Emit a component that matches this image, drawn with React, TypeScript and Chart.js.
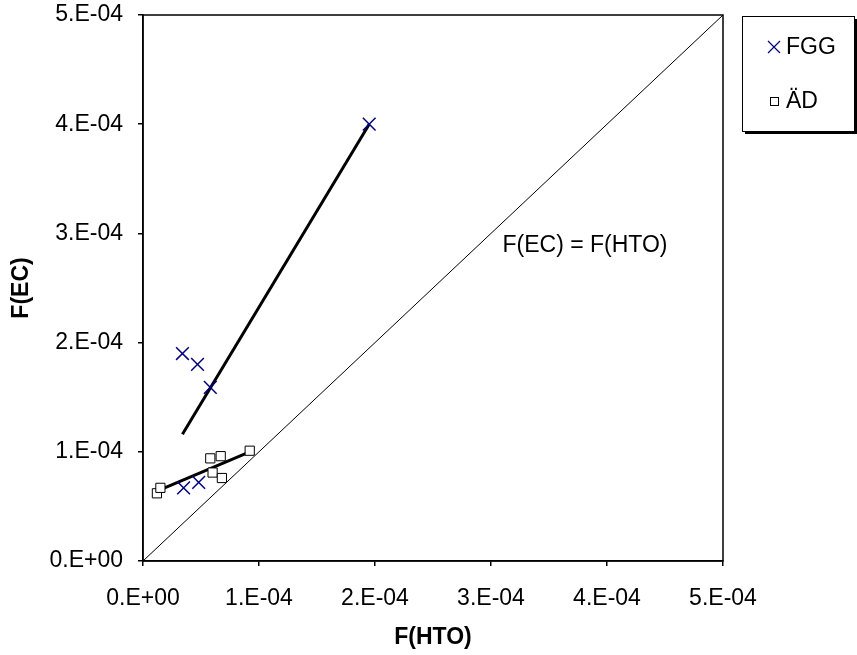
import React, { useEffect, useRef } from "react";
import { Chart, registerables } from "chart.js";

Chart.register(...registerables);

const fggX = [0.34e-4, 0.47e-4, 0.58e-4, 0.35e-4, 0.48e-4, 1.95e-4];
const fggY = [1.9e-4, 1.8e-4, 1.59e-4, 0.67e-4, 0.72e-4, 4.0e-4];
const adX = [0.12e-4, 0.15e-4, 0.58e-4, 0.67e-4, 0.6e-4, 0.68e-4, 0.92e-4];
const adY = [0.62e-4, 0.67e-4, 0.94e-4, 0.96e-4, 0.81e-4, 0.76e-4, 1.01e-4];
const fggTrendX = [0.34e-4, 1.95e-4];
const fggTrendY = [1.16e-4, 4.0e-4];
const adTrendX = [0.12e-4, 0.92e-4];
const adTrendY = [0.64e-4, 1.0e-4];
const diagX = [0, 5e-4];
const diagY = [0, 5e-4];
const seriesNames = ["FGG", "ÄD"];
const diagLabel = "F(EC) = F(HTO)";
const xTitle = "F(HTO)";
const yTitle = "F(EC)";

const FONT = "'Liberation Sans', Arial, sans-serif";
const FS = 23;

const zip = (xs: number[], ys: number[]) => xs.map((x, i) => ({ x, y: ys[i] }));

const fmt = (v: number) => {
  if (Math.abs(v) < 1e-12) return "0.E+00";
  const e = Math.floor(Math.log10(Math.abs(v)) + 1e-9);
  const m = Math.round(v / Math.pow(10, e));
  const s = e < 0 ? "-" : "+";
  const a = Math.abs(e);
  return `${m}.E${s}${a < 10 ? "0" + a : a}`;
};

const overlay = {
  id: "overlay",
  afterDraw(chart: any) {
    const { ctx, chartArea: ca } = chart;
    ctx.save();
    // plot border
    ctx.strokeStyle = "#000";
    ctx.lineWidth = 1.5;
    ctx.strokeRect(ca.left, ca.top, ca.right - ca.left, ca.bottom - ca.top);
    // diagonal label
    ctx.fillStyle = "#000";
    ctx.font = `${FS}px ${FONT}`;
    ctx.textAlign = "center";
    ctx.textBaseline = "middle";
    ctx.fillText(diagLabel, 585, 246);
    // legend box
    const lx = 742, ly = 16, lw = 112, lh = 115;
    ctx.fillStyle = "#000";
    ctx.fillRect(lx + 3, ly + lh, lw, 3);
    ctx.fillRect(lx + lw, ly + 3, 3, lh);
    ctx.fillStyle = "#fff";
    ctx.fillRect(lx, ly, lw, lh);
    ctx.strokeStyle = "#000";
    ctx.lineWidth = 1;
    ctx.strokeRect(lx + 0.5, ly + 0.5, lw, lh);
    // FGG entry
    ctx.strokeStyle = "#000080";
    ctx.lineWidth = 1.2;
    const cx = 774, cy = 47, r = 6;
    ctx.beginPath();
    ctx.moveTo(cx - r, cy - r);
    ctx.lineTo(cx + r, cy + r);
    ctx.moveTo(cx - r, cy + r);
    ctx.lineTo(cx + r, cy - r);
    ctx.stroke();
    ctx.fillStyle = "#000";
    ctx.textAlign = "left";
    ctx.fillText(seriesNames[0], 786, 48);
    // ÄD entry
    ctx.strokeStyle = "#000";
    ctx.lineWidth = 1;
    ctx.strokeRect(770.5, 97.5, 8, 8);
    ctx.fillText(seriesNames[1], 786, 102);
    ctx.restore();
  },
};

export default function App() {
  const ref = useRef<HTMLCanvasElement>(null);
  useEffect(() => {
    if (!ref.current) return;
    Chart.defaults.font.family = FONT;
    Chart.defaults.color = "#000";
    const chart = new Chart(ref.current, {
      type: "scatter",
      data: {
        datasets: [
          {
            label: seriesNames[0],
            data: zip(fggX, fggY),
            pointStyle: "crossRot",
            pointRadius: 9,
            pointHoverRadius: 9,
            borderColor: "#000080",
            backgroundColor: "#000080",
            pointBorderWidth: 1.5,
            showLine: false,
          },
          {
            label: seriesNames[1],
            data: zip(adX, adY),
            pointStyle: "rect",
            pointRadius: 6.5,
            pointHoverRadius: 6.5,
            borderColor: "#000",
            backgroundColor: "#fff",
            pointBorderWidth: 1,
            showLine: false,
          },
          {
            label: "trend FGG",
            data: zip(fggTrendX, fggTrendY),
            showLine: true,
            pointRadius: 0,
            borderColor: "#000",
            borderWidth: 3,
          },
          {
            label: "trend ÄD",
            data: zip(adTrendX, adTrendY),
            showLine: true,
            pointRadius: 0,
            borderColor: "#000",
            borderWidth: 3,
          },
          {
            label: "1:1",
            data: zip(diagX, diagY),
            showLine: true,
            pointRadius: 0,
            borderColor: "#000",
            borderWidth: 1,
          },
        ],
      },
      options: {
        responsive: false,
        animation: false,
        layout: { padding: { left: 0, top: 15, right: 134, bottom: 0 } },
        plugins: { legend: { display: false }, tooltip: { enabled: false } },
        scales: {
          x: {
            type: "linear",
            min: 0,
            max: 5e-4,
            ticks: {
              stepSize: 1e-4,
              callback: (v: any) => fmt(Number(v)),
              font: { size: FS },
              color: "#000",
              padding: 19,
              maxRotation: 0,
              autoSkip: false,
            },
            grid: { drawOnChartArea: false, tickLength: 5, color: "#000", lineWidth: 1.5 },
            border: { display: true, color: "#000", width: 1.5 },
            title: {
              display: true,
              text: xTitle,
              font: { size: FS, weight: "bold" },
              color: "#000",
              padding: { top: 0, bottom: 4 },
            },
            afterFit: (s: any) => {
              s.height = 94;
              s.paddingLeft = 0;
              s.paddingRight = 0;
            },
          },
          y: {
            type: "linear",
            min: 0,
            max: 5e-4,
            ticks: {
              stepSize: 1e-4,
              callback: (v: any) => fmt(Number(v)),
              font: { size: FS },
              color: "#000",
              padding: 15,
              autoSkip: false,
            },
            grid: { drawOnChartArea: false, tickLength: 5, color: "#000", lineWidth: 1.5 },
            border: { display: true, color: "#000", width: 1.5 },
            title: {
              display: true,
              text: yTitle,
              font: { size: FS, weight: "bold" },
              color: "#000",
              padding: { top: 8, bottom: 0 },
            },
            afterFit: (s: any) => {
              s.width = 143;
              s.paddingTop = 0;
              s.paddingBottom = 0;
            },
          },
        },
      },
      plugins: [overlay],
    } as any);
    return () => chart.destroy();
  }, []);
  return (
    <div style={{ position: "fixed", left: 0, top: 0, width: 857, height: 655, background: "#fff" }}>
      <canvas ref={ref} width={857} height={655} style={{ display: "block" }} />
    </div>
  );
}
